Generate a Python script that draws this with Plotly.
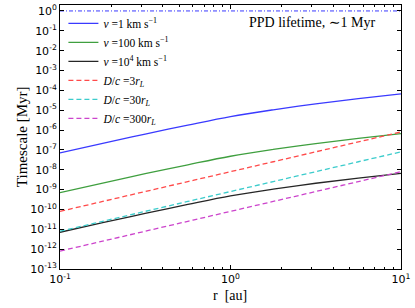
import plotly.graph_objects as go

# radius [au]
r_au = [0.1, 0.178, 0.316, 0.562, 1.0, 1.78, 3.16, 5.62, 10.0]

# timescales [Myr]
t_v1 = [7.08e-8, 2.14e-7, 6.31e-7, 1.78e-6, 4.79e-6, 1.05e-5, 2.09e-5, 3.80e-5, 6.61e-5]
t_v100 = [7.08e-10, 2.14e-9, 6.31e-9, 1.78e-8, 4.79e-8, 1.05e-7, 2.09e-7, 3.80e-7, 6.61e-7]
t_v1e4 = [7.08e-12, 2.14e-11, 6.31e-11, 1.78e-10, 4.79e-10, 1.05e-9, 2.09e-9, 3.80e-9, 6.61e-9]
t_D3 = [8.0e-11, 2.53e-10, 8.0e-10, 2.53e-9, 8.0e-9, 2.53e-8, 8.0e-8, 2.53e-7, 8.0e-7]
t_D30 = [8.0e-12, 2.53e-11, 8.0e-11, 2.53e-10, 8.0e-10, 2.53e-9, 8.0e-9, 2.53e-8, 8.0e-8]
t_D300 = [8.0e-13, 2.53e-12, 8.0e-12, 2.53e-11, 8.0e-11, 2.53e-10, 8.0e-10, 2.53e-9, 8.0e-9]

ppd_r = [0.1, 10.0]
ppd_t = [1.0, 1.0]

x_tickvals = [0.1, 1, 10]
x_ticktext = ["10<sup>-1</sup>", "10<sup>0</sup>", "10<sup>1</sup>"]
y_exps = list(range(-13, 1))
y_tickvals = [10.0 ** e for e in y_exps]
y_ticktext = ["10<sup>%d</sup>" % e for e in y_exps]

serif = "Liberation Serif, DejaVu Serif, serif"
sans = "DejaVu Sans, sans-serif"

fig = go.Figure()

series = [
    (t_v1, "<i>v</i> =1 km s<sup>−1</sup>", "#3a3aff", "solid", 1.3),
    (t_v100, "<i>v</i> =100 km s<sup>−1</sup>", "#3f9f3f", "solid", 1.3),
    (t_v1e4, "<i>v</i> =10<sup>4</sup> km s<sup>−1</sup>", "#262626", "solid", 1.3),
    (t_D3, "<i>D</i>/<i>c</i> =3<i>r<sub>L</sub></i>", "#ff4a4a", "5px,3px", 1.3),
    (t_D30, "<i>D</i>/<i>c</i> =30<i>r<sub>L</sub></i>", "#3ccccc", "5px,3px", 1.3),
    (t_D300, "<i>D</i>/<i>c</i> =300<i>r<sub>L</sub></i>", "#cc44cc", "5px,3px", 1.3),
]
for y, name, color, dash, w in series:
    fig.add_trace(go.Scatter(
        x=r_au, y=y, mode="lines", name=name,
        line=dict(color=color, dash=dash, width=w, shape="spline"),
    ))

fig.add_trace(go.Scatter(
    x=ppd_r, y=ppd_t, mode="lines", showlegend=False,
    line=dict(color="#3a3aff", dash="4px,2px,1px,2px", width=1),
))

fig.add_annotation(
    x=0.74, y=0.97, xref="paper", yref="paper",
    text="PPD lifetime, ∼1 Myr", showarrow=False,
    font=dict(family=serif, size=14, color="black"),
    xanchor="center", yanchor="top",
)
# axis titles
fig.add_annotation(
    x=0.4985, y=-0.102, xref="paper", yref="paper",
    text="r  [au]", showarrow=False,
    font=dict(family=serif, size=14, color="black"),
    xanchor="center", yanchor="middle",
)
fig.add_annotation(
    x=-0.111, y=0.5, xref="paper", yref="paper",
    text="Timescale [Myr]", showarrow=False, textangle=-90,
    font=dict(family=serif, size=15, color="black"),
    xanchor="center", yanchor="middle",
)

axis_common = dict(
    type="log", showgrid=False, zeroline=False,
    showline=True, linecolor="black", linewidth=1, mirror="ticks",
    ticks="inside", ticklen=4, tickcolor="black",
    tickfont=dict(family=sans, size=11, color="black"),
    automargin=False,
)

fig.update_xaxes(
    **axis_common, range=[-1, 1],
    tickmode="array", tickvals=x_tickvals, ticktext=x_ticktext,
    minor=dict(ticks="inside", ticklen=2, tickcolor="black",
               tickvals=[0.2, 0.3, 0.4, 0.5, 0.6, 0.7, 0.8, 0.9,
                         2, 3, 4, 5, 6, 7, 8, 9]),
)
fig.update_yaxes(
    **axis_common, range=[-13, 0.3],
    tickmode="array", tickvals=y_tickvals, ticktext=y_ticktext,
)

fig.update_layout(
    width=415, height=308,
    margin=dict(l=60, r=14, t=5, b=39),
    paper_bgcolor="white", plot_bgcolor="white",
    legend=dict(
        x=0.01, y=0.985, xanchor="left", yanchor="top",
        bgcolor="rgba(0,0,0,0)", borderwidth=0,
        font=dict(family=serif, size=11.5, color="black"),
        tracegroupgap=0, itemwidth=30,
    ),
)

fig.write_html("out.html", config={"displayModeBar": False},
               post_script="document.body.style.margin='0';")
